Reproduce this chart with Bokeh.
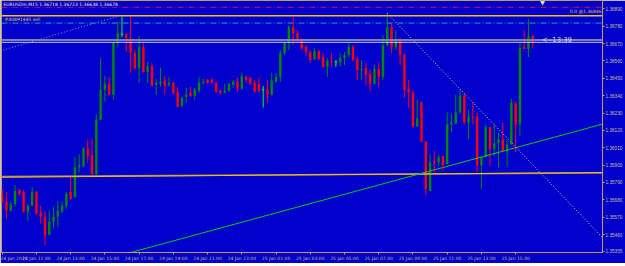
from bokeh.plotting import figure
from bokeh.models import FixedTicker, Span, Label, ColumnDataSource, NumeralTickFormatter
from bokeh.embed import file_html
from bokeh.resources import INLINE

# ---------------- data (EURUSDm, M15, 24-25 Jan 2011) ----------------
tick_bars = [0, 8, 16, 24, 32, 40, 48, 56, 64, 72, 80, 88, 96, 104, 112, 120]
tick_labels = ["24 Jan 2011", "24 Jan 11:00", "24 Jan 13:00", "24 Jan 15:00",
               "24 Jan 17:00", "24 Jan 19:00", "24 Jan 21:00", "24 Jan 23:00",
               "25 Jan 01:00", "25 Jan 03:00", "25 Jan 05:00", "25 Jan 07:00",
               "25 Jan 09:00", "25 Jan 11:00", "25 Jan 13:00", "25 Jan 15:00"]

price_ticks = [1.36890, 1.36780, 1.36670, 1.36560, 1.36450, 1.36340, 1.36230,
               1.36120, 1.36010, 1.35900, 1.35790, 1.35680, 1.35570, 1.35460, 1.35355]

opens = [
    1.35717, 1.35667, 1.35610, 1.35654, 1.35742, 1.35730, 1.35604, 1.35642, 1.35730, 1.35598,
    1.35573, 1.35459, 1.35541, 1.35573, 1.35604, 1.35642, 1.35730, 1.35698, 1.35887, 1.35893,
    1.36006, 1.35962, 1.35843, 1.36189, 1.36377, 1.36415, 1.36346, 1.36679, 1.36729, 1.36729,
    1.36704, 1.36610, 1.36516, 1.36648, 1.36490, 1.36528, 1.36409, 1.36415, 1.36434, 1.36409,
    1.36421, 1.36365, 1.36277, 1.36333, 1.36358, 1.36340, 1.36371, 1.36421, 1.36440, 1.36440,
    1.36421, 1.36371, 1.36358, 1.36371, 1.36409, 1.36428, 1.36384, 1.36459, 1.36453, 1.36421,
    1.36415, 1.36377, 1.36377, 1.36346, 1.36428, 1.36459, 1.36610, 1.36673, 1.36773, 1.36736,
    1.36692, 1.36648, 1.36616, 1.36572, 1.36622, 1.36585, 1.36522, 1.36560, 1.36553, 1.36553,
    1.36578, 1.36597, 1.36648, 1.36572, 1.36503, 1.36516, 1.36478, 1.36415, 1.36509, 1.36459,
    1.36660, 1.36773, 1.36648, 1.36692, 1.36597, 1.36384, 1.36358, 1.36145, 1.36296, 1.36050,
    1.35736, 1.35925, 1.35918, 1.35956, 1.35906, 1.36157, 1.36163, 1.36233, 1.36340, 1.36170,
    1.36208, 1.36208, 1.35899, 1.35950, 1.36138, 1.36000, 1.36038, 1.36063, 1.35988, 1.36031,
    1.36289, 1.36157, 1.36648, 1.36635, 1.36718]
highs = [
    1.35749, 1.35730, 1.35667, 1.35774, 1.35749, 1.35742, 1.35654, 1.35761, 1.35736, 1.35642,
    1.35610, 1.35610, 1.35636, 1.35673, 1.35667, 1.35730, 1.35824, 1.35950, 1.35969, 1.36013,
    1.36063, 1.36069, 1.36220, 1.36578, 1.36465, 1.36459, 1.36679, 1.36805, 1.36842, 1.36736,
    1.36842, 1.36629, 1.36717, 1.36673, 1.36553, 1.36547, 1.36446, 1.36516, 1.36465, 1.36459,
    1.36428, 1.36396, 1.36333, 1.36390, 1.36396, 1.36390, 1.36459, 1.36446, 1.36446, 1.36452,
    1.36428, 1.36377, 1.36415, 1.36421, 1.36440, 1.36453, 1.36484, 1.36465, 1.36459, 1.36440,
    1.36453, 1.36402, 1.36440, 1.36484, 1.36484, 1.36629, 1.36679, 1.36786, 1.36836, 1.36754,
    1.36704, 1.36660, 1.36629, 1.36641, 1.36629, 1.36610, 1.36578, 1.36610, 1.36566, 1.36610,
    1.36616, 1.36673, 1.36660, 1.36585, 1.36566, 1.36547, 1.36503, 1.36534, 1.36547, 1.36723,
    1.36861, 1.36798, 1.36754, 1.36704, 1.36610, 1.36440, 1.36377, 1.36315, 1.36302, 1.36050,
    1.35969, 1.35988, 1.35969, 1.35956, 1.36233, 1.36226, 1.36346, 1.36377, 1.36358, 1.36252,
    1.36296, 1.36233, 1.35956, 1.36157, 1.36145, 1.36157, 1.36107, 1.36170, 1.36063, 1.36321,
    1.36302, 1.36673, 1.36754, 1.36824, 1.36723]
lows = [
    1.35654, 1.35560, 1.35604, 1.35636, 1.35705, 1.35598, 1.35548, 1.35642, 1.35585, 1.35529,
    1.35390, 1.35453, 1.35497, 1.35510, 1.35598, 1.35623, 1.35680, 1.35692, 1.35855, 1.35887,
    1.35918, 1.35837, 1.35837, 1.36182, 1.36302, 1.36340, 1.36315, 1.36648, 1.36710, 1.36616,
    1.36484, 1.36503, 1.36421, 1.36484, 1.36421, 1.36402, 1.36346, 1.36396, 1.36346, 1.36396,
    1.36346, 1.36270, 1.36264, 1.36296, 1.36333, 1.36315, 1.36358, 1.36409, 1.36415, 1.36415,
    1.36358, 1.36346, 1.36358, 1.36365, 1.36390, 1.36365, 1.36377, 1.36421, 1.36409, 1.36358,
    1.36358, 1.36264, 1.36296, 1.36340, 1.36421, 1.36428, 1.36597, 1.36629, 1.36660, 1.36673,
    1.36629, 1.36591, 1.36547, 1.36566, 1.36566, 1.36516, 1.36459, 1.36522, 1.36522, 1.36522,
    1.36534, 1.36585, 1.36553, 1.36440, 1.36440, 1.36409, 1.36365, 1.36409, 1.36396, 1.36440,
    1.36654, 1.36610, 1.36629, 1.36534, 1.36327, 1.36264, 1.36138, 1.36145, 1.36044, 1.35711,
    1.35736, 1.35855, 1.35893, 1.35862, 1.35906, 1.36107, 1.36157, 1.36226, 1.36157, 1.36063,
    1.36157, 1.35855, 1.35749, 1.35950, 1.35893, 1.35956, 1.35887, 1.35981, 1.35887, 1.36031,
    1.35981, 1.36088, 1.36635, 1.36585, 1.36638]
closes = [
    1.35667, 1.35610, 1.35654, 1.35736, 1.35717, 1.35604, 1.35642, 1.35730, 1.35592, 1.35573,
    1.35453, 1.35541, 1.35573, 1.35610, 1.35642, 1.35717, 1.35686, 1.35887, 1.35899, 1.36006,
    1.35956, 1.35843, 1.36189, 1.36377, 1.36415, 1.36346, 1.36673, 1.36736, 1.36729, 1.36704,
    1.36610, 1.36516, 1.36648, 1.36490, 1.36528, 1.36402, 1.36421, 1.36428, 1.36402, 1.36421,
    1.36358, 1.36270, 1.36327, 1.36346, 1.36340, 1.36377, 1.36421, 1.36428, 1.36421, 1.36421,
    1.36365, 1.36358, 1.36371, 1.36415, 1.36428, 1.36384, 1.36465, 1.36440, 1.36415, 1.36365,
    1.36371, 1.36377, 1.36346, 1.36434, 1.36459, 1.36610, 1.36673, 1.36773, 1.36736, 1.36692,
    1.36641, 1.36616, 1.36566, 1.36622, 1.36572, 1.36522, 1.36560, 1.36553, 1.36553, 1.36578,
    1.36597, 1.36648, 1.36566, 1.36503, 1.36509, 1.36472, 1.36415, 1.36509, 1.36459, 1.36660,
    1.36773, 1.36648, 1.36692, 1.36597, 1.36377, 1.36358, 1.36145, 1.36195, 1.36050, 1.35749,
    1.35918, 1.35912, 1.35950, 1.35899, 1.36157, 1.36170, 1.36233, 1.36340, 1.36170, 1.36208,
    1.36201, 1.35899, 1.35950, 1.36138, 1.36000, 1.36038, 1.36063, 1.35988, 1.36031, 1.36296,
    1.36157, 1.36641, 1.36635, 1.36717, 1.36678]

# chart objects (prices)
sl_price = 1.36900        # red dash-dot
order_price = 1.36800     # teal dash-dot (#40891445 sell)
fib0_price = 1.36846      # "0.0 @1.36846"
hline_price = 1.36692     # grey level
bid_price = 1.36678       # bid line

trend_green_x = [28, 141]
trend_green_y = [1.35331, 1.36165]
trend_gold_x = [-0.2, 140.3]
trend_gold_y = [1.35823, 1.35853]
trend_grey_x = [-0.2, 140.3]
trend_grey_y = [1.35828, 1.35850]
dot_left_x = [-0.4, 27.1]
dot_left_y = [1.36624, 1.36843]
dot_right_x = [90, 141]
dot_right_y = [1.36862, 1.35421]
shift_marker_x = [126.3]
shift_marker_y = [1.36930]
countdown_bar = 126.1

header = "EURUSDm,M15  1.36718 1.36723 1.36638 1.36678"

# ---------------- styling ----------------
BG = "#0000cc"
AXIS = "#c0a050"
LABEL = "#c8bc8c"
UP = "#008a00"
DOWN = "#ff0000"
DOJI = "#00ff00"
FONT = "DejaVu Sans"

x_start, x_end = -0.16, 140.3
y_start, y_end = 1.35346, 1.36943

p = figure(width=625, height=263, x_range=(x_start, x_end), y_range=(y_start, y_end),
           y_axis_location="right", output_backend="svg", toolbar_location=None,
           min_border_left=1, min_border_right=0, min_border_top=0, min_border_bottom=0,
           background_fill_color=BG, border_fill_color=BG,
           outline_line_color=AXIS, outline_line_width=1)
p.grid.visible = False

for ax in (p.xaxis[0], p.yaxis[0]):
    ax.axis_line_color = AXIS
    ax.major_tick_line_color = AXIS
    ax.major_tick_out = 2
    ax.major_tick_in = 0
    ax.minor_tick_line_color = None
    ax.major_label_text_color = LABEL
    ax.major_label_standoff = 1

p.xaxis[0].ticker = FixedTicker(ticks=tick_bars)
p.xaxis[0].major_label_overrides = {b: t for b, t in zip(tick_bars, tick_labels)}
p.xaxis[0].major_label_text_align = "left"
p.xaxis[0].major_label_text_font = FONT
p.xaxis[0].major_label_text_font_size = "4.5px"
p.yaxis[0].ticker = FixedTicker(ticks=price_ticks)
p.yaxis[0].formatter = NumeralTickFormatter(format="0.00000")
p.yaxis[0].major_label_text_font = "Liberation Sans"
p.yaxis[0].major_label_text_font_size = "4.7px"

# ---------------- candles ----------------
idx = list(range(len(opens)))
colors = [UP if c > o else (DOWN if c < o else DOJI) for o, c in zip(opens, closes)]
src = ColumnDataSource(dict(
    x=idx, h=highs, l=lows,
    top=[max(o, c) for o, c in zip(opens, closes)],
    bottom=[min(o, c) for o, c in zip(opens, closes)],
    color=colors))
p.segment(x0="x", y0="h", x1="x", y1="l", line_color="color", line_width=1, source=src)
p.vbar(x="x", width=0.55, top="top", bottom="bottom", fill_color="color",
       line_color=None, source=src)
doji_i = [i for i, (o, c) in enumerate(zip(opens, closes)) if o == c]
p.segment(x0=[i - 0.3 for i in doji_i], x1=[i + 0.3 for i in doji_i],
          y0=[opens[i] for i in doji_i], y1=[opens[i] for i in doji_i],
          line_color=DOJI, line_width=1)

# ---------------- objects ----------------
p.line(trend_grey_x, trend_grey_y, line_color="#a08878", line_width=1.5)
p.line(trend_gold_x, trend_gold_y, line_color="#f8c000", line_width=1.2)
p.line(trend_green_x, trend_green_y, line_color="#10c810", line_width=1)
p.line(dot_left_x, dot_left_y, line_color="#9a9ad0", line_width=1, line_dash="1 2")
p.line(dot_right_x, dot_right_y, line_color="#e0e080", line_width=1, line_dash="1 2")

p.add_layout(Span(location=sl_price, dimension="width", line_color="#d81040",
                  line_width=1, line_dash="6 2 1 2"))
p.add_layout(Span(location=fib0_price, dimension="width", line_color="#f0c020",
                  line_width=1.5))
p.add_layout(Span(location=order_price, dimension="width", line_color="#20a8a8",
                  line_width=1, line_dash="6 2 1 2"))
p.add_layout(Span(location=hline_price, dimension="width", line_color="#8080a8",
                  line_width=2))
p.add_layout(Span(location=bid_price, dimension="width", line_color="#c8c8f0",
                  line_width=1))

p.scatter(shift_marker_x, shift_marker_y, marker="inverted_triangle", size=5,
          fill_color="#d8d8d8", line_color=None)

p.add_layout(Label(x=0.3, y=y_end, y_offset=-1.5, text=header, text_baseline="top",
                   text_font=FONT, text_font_size="4.5px", text_color="#e8e8e8",
                   background_fill_color=BG))
p.add_layout(Label(x=0.55, y=order_price, y_offset=1.5, text="#40891445 sell",
                   text_baseline="bottom", text_font=FONT, text_font_size="4.5px",
                   text_color="#e0c860"))
p.add_layout(Label(x=x_end, x_offset=-1, y=fib0_price, y_offset=1.5, text="0.0 @1.36846",
                   text_align="right", text_baseline="bottom", text_font=FONT,
                   text_font_size="4.5px", text_color="#e0c040"))
p.add_layout(Label(x=countdown_bar, y=bid_price, y_offset=2.5, text="<--13:39",
                   text_baseline="middle", text_font=FONT, text_font_size="6.8px",
                   text_color="#d8d8f0"))

open("out.html", "w").write(file_html(p, INLINE))
